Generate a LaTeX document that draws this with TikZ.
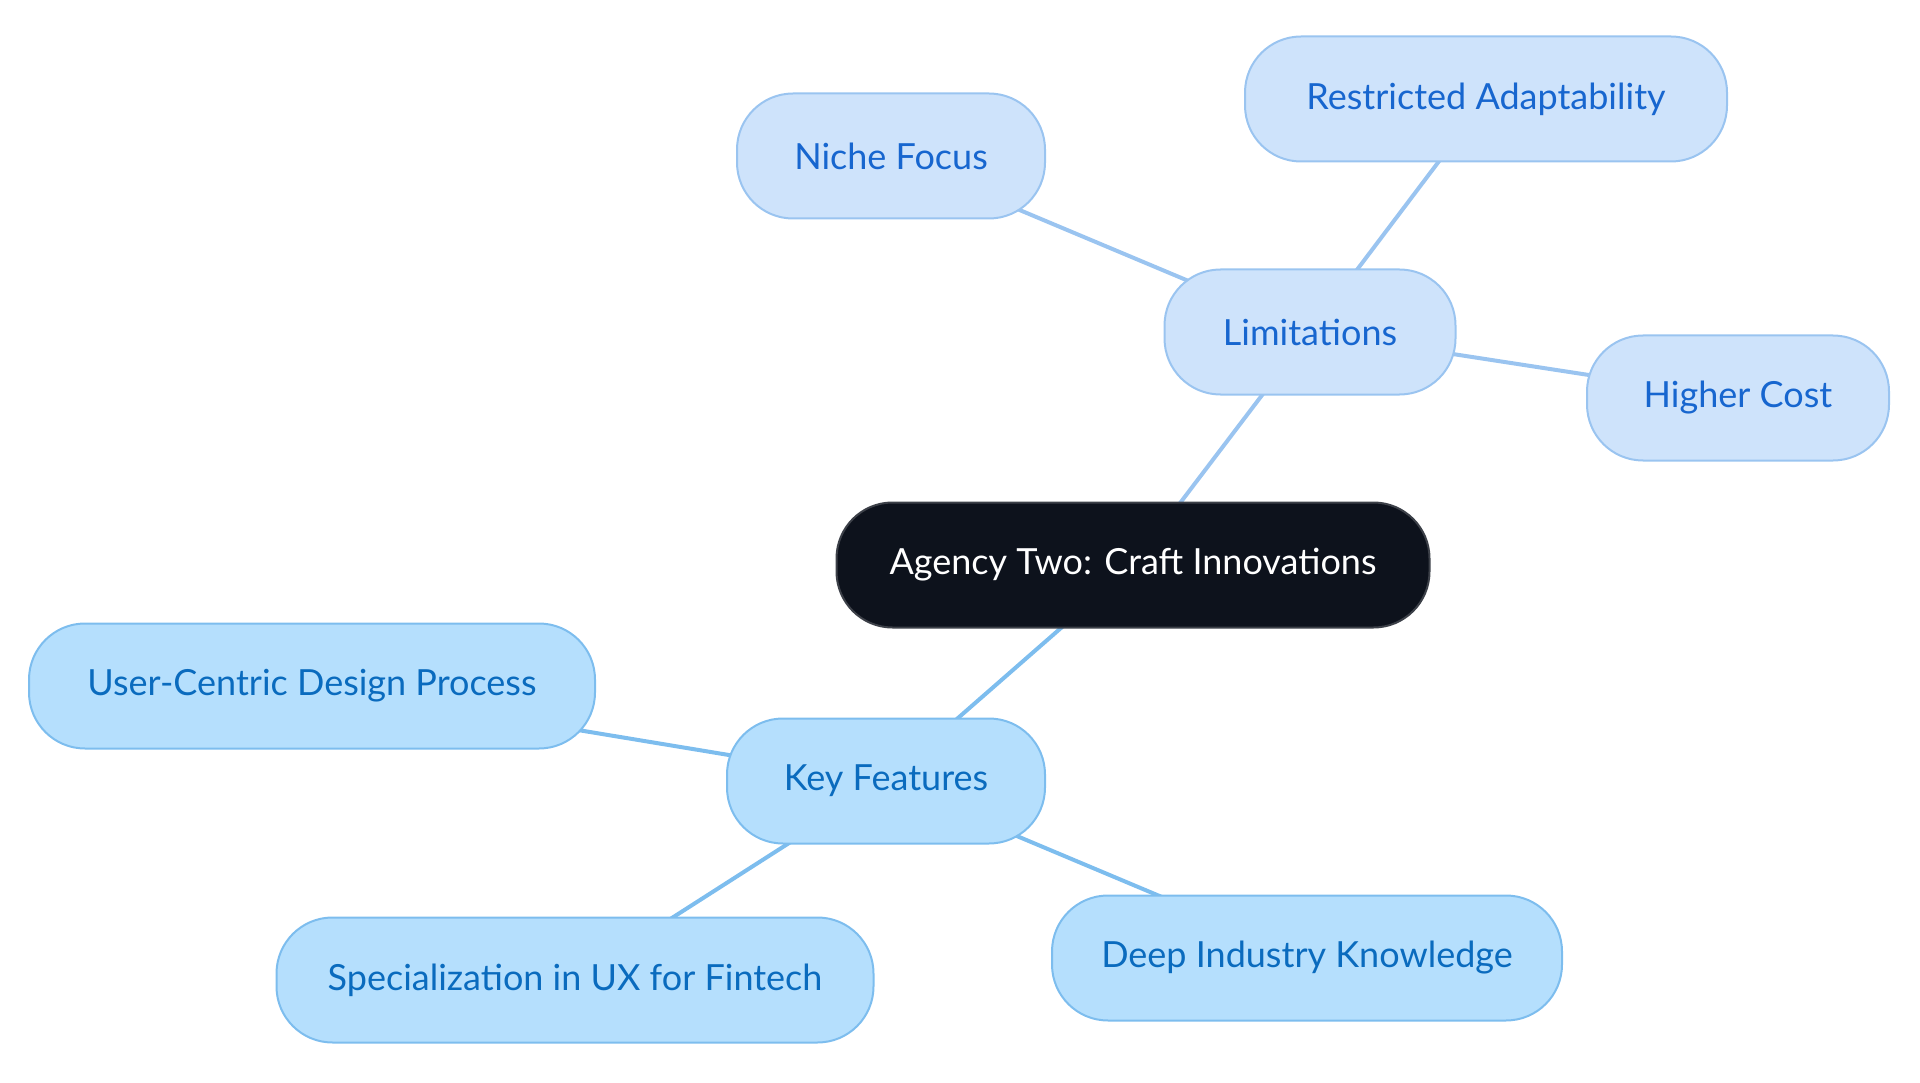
\documentclass[tikz,border=0pt]{standalone}
\usepackage{fontspec}
\setmainfont{Lato}
\usetikzlibrary{backgrounds}
\definecolor{limfill}{HTML}{CEE3FB}
\definecolor{limdraw}{HTML}{9AC4F0}
\definecolor{limtext}{HTML}{1766CF}
\definecolor{keyfill}{HTML}{B5DFFD}
\definecolor{keydraw}{HTML}{7DBDEE}
\definecolor{keytext}{HTML}{0A6BBE}
\definecolor{rootfill}{HTML}{0D121C}
\definecolor{rootdraw}{HTML}{3C4048}
\tikzset{
  pill/.style={rounded corners=56pt, minimum height=125pt, inner sep=0pt,
    line width=2pt, font=\fontsize{36}{43}\selectfont},
  limnode/.style={pill, fill=limfill, draw=limdraw, text=limtext},
  keynode/.style={pill, fill=keyfill, draw=keydraw, text=keytext},
  rootnode/.style={pill, fill=rootfill, draw=rootdraw, text=white},
  limedge/.style={draw=limdraw, line width=4pt},
  keyedge/.style={draw=keydraw, line width=4pt},
}
\begin{document}
\begin{tikzpicture}[x=1pt,y=-1pt]
\useasboundingbox (0,0) rectangle (1920,1083);
\node[rootnode, minimum width=593pt] (root) at (1133,565) {Agency Two: Craft Innovations};
\node[limnode, minimum width=291pt] (lim) at (1310,332) {Limitations};
\node[limnode, minimum width=308pt] (niche) at (891,156) {Niche Focus};
\node[limnode, minimum width=482pt] (restr) at (1486,99) {Restricted Adaptability};
\node[limnode, minimum width=302pt] (cost) at (1738,398) {Higher Cost};
\node[keynode, minimum width=318pt] (key) at (886,781) {Key Features};
\node[keynode, minimum width=566pt] (ucd) at (312,686) {User-Centric Design Process};
\node[keynode, minimum width=597pt] (spec) at (575,980) {Specialization in UX for Fintech};
\node[keynode, minimum width=510pt] (deep) at (1307,958) {Deep Industry Knowledge};
\begin{pgfonlayer}{background}
\draw[limedge] (root.center) -- (lim.center);
\draw[limedge] (lim.center) -- (niche.center);
\draw[limedge] (lim.center) -- (restr.center);
\draw[limedge] (lim.center) -- (cost.center);
\draw[keyedge] (root.center) -- (key.center);
\draw[keyedge] (key.center) -- (ucd.center);
\draw[keyedge] (key.center) -- (spec.center);
\draw[keyedge] (key.center) -- (deep.center);
\end{pgfonlayer}
\end{tikzpicture}
\end{document}
